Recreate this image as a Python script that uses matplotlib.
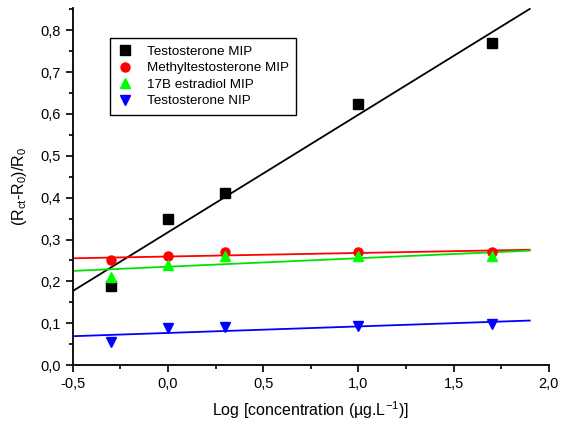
import numpy as np
import matplotlib
matplotlib.use('Agg')
import matplotlib.pyplot as plt
from matplotlib.ticker import MultipleLocator, FuncFormatter

plt.rcParams['font.family'] = ['Liberation Sans', 'DejaVu Sans']
plt.rcParams['mathtext.fontset'] = 'custom'
plt.rcParams['mathtext.rm'] = 'Liberation Sans'
plt.rcParams['mathtext.it'] = 'Liberation Sans'

log_conc = [-0.3, 0.0, 0.3, 1.0, 1.7]
testo_mip = [0.19, 0.35, 0.41, 0.625, 0.77]
methyl_mip = [0.25, 0.26, 0.27, 0.27, 0.27]
estradiol_mip = [0.21, 0.24, 0.26, 0.26, 0.26]
testo_nip = [0.055, 0.088, 0.092, 0.093, 0.098]

series = [
    ('Testosterone MIP', testo_mip, 's', 'black', 'black'),
    ('Methyltestosterone MIP', methyl_mip, 'o', 'red', 'red'),
    ('17B estradiol MIP', estradiol_mip, '^', '#00ff00', '#00e000'),
    ('Testosterone NIP', testo_nip, 'v', 'blue', 'blue'),
]

fig = plt.figure(figsize=(5.64, 4.26), dpi=100)
ax = fig.add_axes([0.129, 0.143, 0.844, 0.838])

xfit = np.array([-0.5, 1.9])
for name, y, m, c, lc in series:
    ax.plot(log_conc, y, m, color=c, ms=6.5, label=name, zorder=3)
    k, b = np.polyfit(log_conc, y, 1)
    ax.plot(xfit, k * xfit + b, '-', color=lc, lw=1.3, zorder=2)

ax.set_xlim(-0.5, 2.0)
ax.set_ylim(0.0, 0.853)
ax.spines['top'].set_visible(False)
ax.spines['right'].set_visible(False)
ax.spines['left'].set_linewidth(1.3)
ax.spines['bottom'].set_linewidth(1.3)
ax.xaxis.set_major_locator(MultipleLocator(0.5))
ax.xaxis.set_minor_locator(MultipleLocator(0.25))
ax.yaxis.set_major_locator(MultipleLocator(0.1))
ax.yaxis.set_minor_locator(MultipleLocator(0.05))
comma = FuncFormatter(lambda v, p: f'{v:.1f}'.replace('.', ','))
ax.xaxis.set_major_formatter(comma)
ax.yaxis.set_major_formatter(comma)
ax.tick_params(which='major', length=5, width=1.2, labelsize=10.5)
ax.tick_params(which='minor', length=3, width=1.2)

ax.set_xlabel('Log [concentration (µg.L$^{-1}$)]', fontsize=11.5, labelpad=6)
ax.set_ylabel('(R$_{\\rm ct}$-R$_0$)/R$_0$', fontsize=11.5, labelpad=8)

leg = ax.legend(loc='upper left', bbox_to_anchor=(0.078, 0.916), borderaxespad=0,
                fontsize=9.7, frameon=True, fancybox=False, edgecolor='black',
                framealpha=1, handletextpad=1.0, borderpad=0.55, labelspacing=0.3,
                handlelength=1.2)
leg.get_frame().set_linewidth(1.0)

fig.savefig('out.png', dpi=100)
